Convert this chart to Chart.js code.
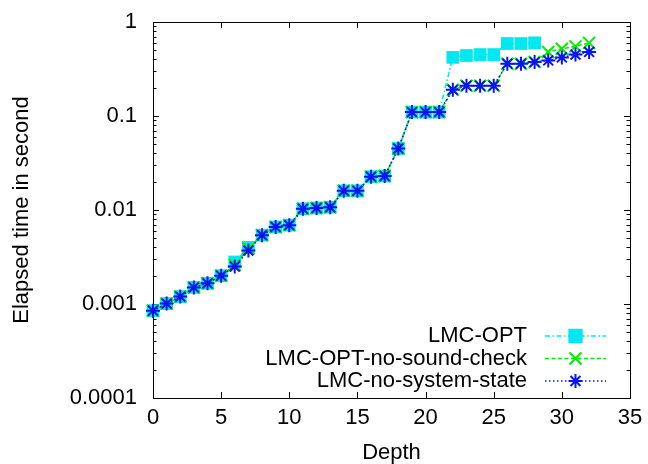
<!DOCTYPE html>
<html>
<head>
<meta charset="utf-8">
<script src="https://cdn.jsdelivr.net/npm/chart.js@4.4.0/dist/chart.umd.min.js"></script>
<style>
  html, body { margin: 0; padding: 0; background: #fff; }
</style>
</head>
<body>
<canvas id="chart" width="648" height="464"></canvas>
<script>
// depth of the search, one point per depth
const depth = [0, 1, 2, 3, 4, 5, 6, 7, 8, 9, 10, 11, 12, 13, 14, 15, 16,
  17, 18, 19, 20, 21, 22, 23, 24, 25, 26, 27, 28, 29, 30, 31, 32];

// elapsed time in second for each variant
const lmcOpt = [0.00085, 0.00101, 0.0012, 0.0015, 0.00166, 0.002, 0.0028, 0.004,
  0.0054, 0.0066, 0.0069, 0.0103, 0.0105, 0.0107, 0.016, 0.016, 0.0226, 0.023,
  0.045, 0.11, 0.11, 0.11, 0.42, 0.44, 0.45, 0.45, 0.59, 0.59, 0.6];
const lmcNoSound = [0.00085, 0.00101, 0.0012, 0.0015, 0.00166, 0.002, 0.0026, 0.0039,
  0.0054, 0.0066, 0.0069, 0.0103, 0.0105, 0.0107, 0.016, 0.016, 0.0226, 0.023,
  0.045, 0.11, 0.11, 0.11, 0.19, 0.21, 0.21, 0.21, 0.36, 0.36, 0.375, 0.48, 0.52, 0.55, 0.6];
const lmcNoState = [0.00085, 0.00101, 0.0012, 0.0015, 0.00166, 0.002, 0.0025, 0.0037,
  0.0054, 0.0066, 0.0069, 0.0103, 0.0105, 0.0107, 0.016, 0.016, 0.0226, 0.023,
  0.045, 0.11, 0.11, 0.11, 0.19, 0.21, 0.21, 0.21, 0.36, 0.36, 0.375, 0.39, 0.42, 0.45, 0.48];

const seriesNames = ["LMC-OPT", "LMC-OPT-no-sound-check", "LMC-no-system-state"];
const xTicks = [0, 5, 10, 15, 20, 25, 30, 35];
const yTicks = [0.0001, 0.001, 0.01, 0.1, 1];
const yTickLabels = ["0.0001", "0.001", "0.01", "0.1", "1"];

const FONT = "'Liberation Sans', Arial, Helvetica, sans-serif";
const FONT_SIZE = 22;

function points(values) {
  return values.map((v, i) => ({ x: depth[i], y: v }));
}

Chart.defaults.font.family = FONT;
Chart.defaults.font.size = FONT_SIZE;
Chart.defaults.color = "#000";

// small fallback in case helpers are not exposed
function drawMarker(ctx, style, r, x, y) {
  if (Chart.helpers && Chart.helpers.drawPoint) {
    Chart.helpers.drawPoint(ctx, { pointStyle: style, radius: r, rotation: 0, borderWidth: ctx.lineWidth }, x, y);
    return;
  }
  ctx.beginPath();
  if (style === "rect") {
    const s = r * Math.SQRT1_2;
    ctx.rect(x - s, y - s, 2 * s, 2 * s);
    ctx.fill();
  } else {
    const d = r * Math.SQRT1_2;
    ctx.moveTo(x - d, y - d); ctx.lineTo(x + d, y + d);
    ctx.moveTo(x - d, y + d); ctx.lineTo(x + d, y - d);
    if (style === "star") {
      ctx.moveTo(x - r, y); ctx.lineTo(x + r, y);
      ctx.moveTo(x, y - r); ctx.lineTo(x, y + r);
    }
  }
  ctx.stroke();
}

// gnuplot style frame, inward ticks on all four sides and the legend inside the plot
const gnuplotLook = {
  id: "gnuplotLook",
  beforeDatasetsDraw(chart) {
    const { ctx, chartArea: a, scales } = chart;
    ctx.save();
    ctx.strokeStyle = "#000";
    ctx.lineWidth = 1;
    ctx.strokeRect(a.left + 0.5, a.top + 0.5, a.right - a.left, a.bottom - a.top);
    ctx.beginPath();
    xTicks.forEach(v => {
      const px = Math.round(scales.x.getPixelForValue(v)) + 0.5;
      ctx.moveTo(px, a.bottom); ctx.lineTo(px, a.bottom - 6);
      ctx.moveTo(px, a.top); ctx.lineTo(px, a.top + 6);
    });
    for (let e = -4; e <= 0; e++) {
      for (let m = 1; m <= 9; m++) {
        const v = m * Math.pow(10, e);
        if (v > 1) break;
        const len = m === 1 ? 6 : 3.5;
        const py = Math.round(scales.y.getPixelForValue(v)) + 0.5;
        ctx.moveTo(a.left, py); ctx.lineTo(a.left + len, py);
        ctx.moveTo(a.right, py); ctx.lineTo(a.right - len, py);
      }
    }
    ctx.stroke();
    ctx.restore();
  },
  afterDraw(chart) {
    const { ctx, chartArea: a } = chart;
    ctx.save();
    ctx.font = FONT_SIZE + "px " + FONT;
    ctx.textAlign = "right";
    ctx.textBaseline = "middle";
    chart.data.datasets.forEach((ds, i) => {
      const y = a.bottom - 62 + i * 22.5;
      const textRight = a.right - 103;
      const x0 = a.right - 85, x1 = a.right - 24;
      ctx.fillStyle = "#000";
      ctx.fillText(ds.label, textRight, y);
      ctx.strokeStyle = ds.borderColor;
      ctx.lineWidth = ds.borderWidth;
      ctx.setLineDash(ds.borderDash);
      ctx.beginPath();
      ctx.moveTo(x0, y); ctx.lineTo(x1, y);
      ctx.stroke();
      ctx.setLineDash([]);
      ctx.fillStyle = ds.pointBackgroundColor;
      ctx.strokeStyle = ds.pointBorderColor;
      ctx.lineWidth = ds.pointBorderWidth;
      drawMarker(ctx, ds.pointStyle, ds.pointRadius, (x0 + x1) / 2, y);
    });
    ctx.restore();
  }
};

const datasets = [
  {
    label: seriesNames[0],
    data: points(lmcOpt),
    borderColor: "#00e8f0",
    borderWidth: 1.6,
    borderDash: [5, 2.5, 1.5, 2.5],
    pointStyle: "rect",
    pointRadius: 9,
    pointBackgroundColor: "#00e8f0",
    pointBorderColor: "#00e8f0",
    pointBorderWidth: 0,
    order: 3
  },
  {
    label: seriesNames[1],
    data: points(lmcNoSound),
    borderColor: "#00ee00",
    borderWidth: 1.6,
    borderDash: [4, 2.5],
    pointStyle: "crossRot",
    pointRadius: 8.5,
    pointBackgroundColor: "#00ee00",
    pointBorderColor: "#00ee00",
    pointBorderWidth: 2,
    order: 2
  },
  {
    label: seriesNames[2],
    data: points(lmcNoState),
    borderColor: "#0a14f0",
    borderWidth: 1.6,
    borderDash: [1.5, 2.5],
    pointStyle: "star",
    pointRadius: 7,
    pointBackgroundColor: "#0a14f0",
    pointBorderColor: "#0a14f0",
    pointBorderWidth: 2,
    order: 1
  }
];
datasets.forEach(ds => { ds.clip = false; ds.tension = 0; ds.fill = false; ds.pointHoverRadius = ds.pointRadius; });

new Chart(document.getElementById("chart"), {
  type: "line",
  data: { datasets: datasets },
  options: {
    responsive: false,
    animation: false,
    events: [],
    layout: { autoPadding: false, padding: { top: 22, right: 18, left: 0, bottom: 0 } },
    plugins: { legend: { display: false }, tooltip: { enabled: false } },
    scales: {
      x: {
        type: "linear",
        min: 0,
        max: 35,
        grid: { display: false, drawTicks: false },
        border: { display: false },
        ticks: { stepSize: 5, padding: 7, maxRotation: 0 },
        afterBuildTicks: scale => { scale.ticks = xTicks.map(v => ({ value: v })); },
        afterFit: scale => { scale.height = 66; scale.paddingLeft = 0; scale.paddingRight = 0; },
        title: { display: true, text: "Depth", padding: { top: 0, bottom: -2 } }
      },
      y: {
        type: "logarithmic",
        min: 0.0001,
        max: 1,
        grid: { display: false, drawTicks: false },
        border: { display: false },
        ticks: {
          padding: 16,
          callback: value => yTickLabels[yTicks.indexOf(value)]
        },
        afterBuildTicks: scale => { scale.ticks = yTicks.map(v => ({ value: v })); },
        afterFit: scale => { scale.width = 153; scale.paddingTop = 0; scale.paddingBottom = 0; },
        title: { display: true, text: "Elapsed time in second", padding: { top: 9, bottom: 0 } }
      }
    }
  },
  plugins: [gnuplotLook]
});
</script>
</body>
</html>
